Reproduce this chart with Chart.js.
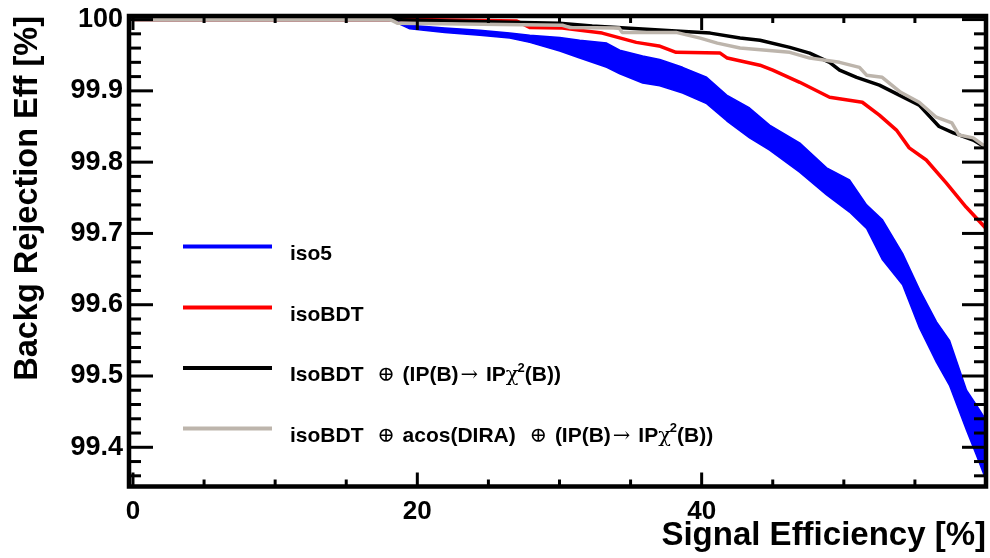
<!DOCTYPE html>
<html><head><meta charset="utf-8">
<script src="https://cdn.jsdelivr.net/npm/chart.js@4.4.0/dist/chart.umd.min.js"></script>
<style>html,body{margin:0;padding:0;background:#fff;}#wrap{width:990px;height:558px;position:relative;}</style>
</head><body><div id="wrap"><canvas id="c" width="990" height="558"></canvas></div>
<script>
// ---- data ----
const seriesNames = ['iso5', 'isoBDT', 'IsoBDT  ⊕ (IP(B)→ IPχ^{2}(B))', 'isoBDT  ⊕ acos(DIRA)  ⊕ (IP(B)→ IPχ^{2}(B))'];
const seriesColors = ['#0000ff', '#ff0000', '#000000', '#bdb5ac'];

const iso5X     = [0, 18.07, 19.47, 21.93, 24.39, 26.50, 27.91, 30.02, 31.42, 33.32, 34.24, 35.85, 37.05, 38.66, 40.35, 41.76, 43.37, 44.78, 46.89, 48.79, 50.40, 51.60, 52.72, 54.13, 55.33, 56.52, 57.43, 58.63, 59.33, 60.0];
const iso5Upper = [100, 100, 99.992, 99.988, 99.985, 99.981, 99.978, 99.975, 99.971, 99.967, 99.957, 99.949, 99.944, 99.933, 99.919, 99.894, 99.876, 99.852, 99.827, 99.792, 99.775, 99.740, 99.719, 99.672, 99.621, 99.576, 99.550, 99.480, 99.459, 99.438];
const iso5Lower = [100, 100, 99.987, 99.982, 99.978, 99.974, 99.968, 99.956, 99.946, 99.933, 99.924, 99.911, 99.907, 99.897, 99.882, 99.858, 99.834, 99.817, 99.786, 99.754, 99.730, 99.707, 99.663, 99.628, 99.567, 99.519, 99.487, 99.424, 99.389, 99.354];

const isoBdtX = [0, 19.7, 27.0, 27.9, 30.2, 33.0, 35.4, 37.0, 38.2, 41.3, 41.8, 44.1, 45.0, 46.9, 49.0, 51.3, 52.5, 53.7, 54.6, 55.8, 57.2, 58.6, 60.0];
const isoBdtY = [100, 100, 99.998, 99.989, 99.988, 99.981, 99.968, 99.963, 99.954, 99.953, 99.946, 99.936, 99.929, 99.912, 99.891, 99.884, 99.866, 99.845, 99.820, 99.803, 99.771, 99.737, 99.707];

const ipX = [0, 18.1, 22.3, 30.0, 32.3, 38.2, 40.6, 42.7, 44.1, 46.2, 47.6, 49.0, 49.7, 50.9, 52.5, 53.9, 55.3, 56.7, 57.7, 59.1, 60.0];
const ipY = [100, 100, 99.998, 99.995, 99.991, 99.984, 99.981, 99.974, 99.971, 99.961, 99.953, 99.940, 99.929, 99.919, 99.908, 99.894, 99.880, 99.850, 99.841, 99.831, 99.820];

const diraX = [0, 18.1, 18.6, 21.8, 30.2, 30.7, 34.2, 34.4, 38.2, 39.9, 41.1, 42.7, 46.2, 47.6, 49.7, 51.1, 51.6, 52.7, 54.0, 55.3, 56.5, 57.6, 58.1, 59.1, 60.0];
const diraY = [100, 100, 99.995, 99.994, 99.992, 99.989, 99.988, 99.982, 99.982, 99.974, 99.967, 99.960, 99.954, 99.946, 99.940, 99.933, 99.922, 99.919, 99.898, 99.884, 99.863, 99.855, 99.838, 99.834, 99.821];

const xTickLabels = [0, 20, 40];
const yTickLabels = [99.4, 99.5, 99.6, 99.7, 99.8, 99.9, 100];
const xMinorStep = 5, yMinorStep = 0.02;
const xRange = [-0.28, 60.0], yRange = [99.345, 100.005];
const xTitle = 'Signal Efficiency [%]';
const yTitle = 'Backg Rejection Eff [%]';

// ---- build datasets ----
const pts = (xs, ys) => xs.map((x, i) => ({x, y: ys[i]}));
const lineDs = (label, xs, ys, color, w) => ({label, data: pts(xs, ys), borderColor: color, backgroundColor: color,
  borderWidth: w, pointRadius: 0, tension: 0, fill: false});

const datasets = [
  lineDs(seriesNames[3], diraX, diraY, seriesColors[3], 3.5),
  lineDs(seriesNames[2], ipX, ipY, seriesColors[2], 3.5),
  lineDs(seriesNames[1], isoBdtX, isoBdtY, seriesColors[1], 3.5),
  lineDs(seriesNames[0] + ' upper', iso5X, iso5Upper, seriesColors[0], 1.5),
  Object.assign(lineDs(seriesNames[0] + ' lower', iso5X, iso5Lower, seriesColors[0], 1.5), {fill: '-1'})
];

const near = (v, arr, eps) => arr.find(a => Math.abs(a - v) < eps);

function stepTicks(min, max, step) {
  const out = [];
  const start = Math.ceil(min / step - 1e-6);
  const end = Math.floor(max / step + 1e-6);
  for (let k = start; k <= end; k++) out.push({value: +(k * step).toFixed(6)});
  return out;
}

const FONT = '"Liberation Sans", Arial, sans-serif';

const frameTicks = {
  id: 'frameTicks',
  afterDatasetsDraw(chart) {
    const {ctx, chartArea: a, scales: {x, y}} = chart;
    ctx.save();
    ctx.strokeStyle = '#000';
    ctx.lineWidth = 3;
    ctx.lineCap = 'butt';
    const seg = (x1, y1, x2, y2) => { ctx.beginPath(); ctx.moveTo(x1, y1); ctx.lineTo(x2, y2); ctx.stroke(); };
    x.ticks.forEach(t => {
      const px = x.getPixelForValue(t.value);
      const L = near(t.value, xTickLabels, 1e-6) !== undefined ? 14 : 7;
      seg(px, a.bottom, px, a.bottom - L);
      seg(px, a.top, px, a.top + L);
    });
    y.ticks.forEach(t => {
      const py = y.getPixelForValue(t.value);
      const L = near(t.value, yTickLabels, 1e-6) !== undefined ? 24 : 12;
      seg(a.left, py, a.left + L, py);
      seg(a.right, py, a.right - L, py);
    });
    ctx.lineWidth = 4.5;
    ctx.strokeRect(a.left, a.top, a.right - a.left, a.bottom - a.top);
    ctx.restore();
  }
};

function drawRich(ctx, str, x, y, size) {
  const re = /\^\{([^}]*)\}|([⊕→χ])|([^⊕→χ^]+)/g;
  let m;
  ctx.textBaseline = 'alphabetic';
  ctx.textAlign = 'left';
  while ((m = re.exec(str))) {
    if (m[1] !== undefined) {
      ctx.font = `bold ${Math.round(size * 0.62)}px ${FONT}`;
      ctx.fillText(m[1], x - 1, y - size * 0.45);
      x += ctx.measureText(m[1]).width - 1;
    } else if (m[2]) {
      const gap = m[2] === 'χ' ? 0 : 2;
      x += gap;
      ctx.font = `${size}px "DejaVu Serif", "Liberation Serif", serif`;
      ctx.fillText(m[2], x, y);
      x += ctx.measureText(m[2]).width + gap;
    } else {
      ctx.font = `bold ${size}px ${FONT}`;
      ctx.fillText(m[3], x, y);
      x += ctx.measureText(m[3]).width;
    }
  }
}

const legendPlugin = {
  id: 'rootLegend',
  afterDraw(chart) {
    const ctx = chart.ctx;
    const rows = [246.5, 307.5, 368, 428.5];
    ctx.save();
    seriesNames.forEach((name, i) => {
      ctx.strokeStyle = seriesColors[i];
      ctx.lineWidth = 4;
      ctx.beginPath(); ctx.moveTo(183, rows[i]); ctx.lineTo(272, rows[i]); ctx.stroke();
      ctx.fillStyle = '#000';
      drawRich(ctx, name, 290, rows[i] + 13, 21);
    });
    ctx.restore();
  }
};

new Chart(document.getElementById('c'), {
  type: 'line',
  data: {datasets},
  plugins: [frameTicks, legendPlugin],
  options: {
    responsive: false,
    animation: false,
    layout: {padding: {top: 16, right: 4, left: 0, bottom: 0}},
    plugins: {legend: {display: false}, tooltip: {enabled: false}},
    elements: {line: {borderJoinStyle: 'round'}},
    scales: {
      x: {
        type: 'linear', min: xRange[0], max: xRange[1],
        afterBuildTicks: s => { s.ticks = stepTicks(0, xRange[1], xMinorStep); },
        afterFit: s => { s.height = 71.5; s.paddingLeft = 0; s.paddingRight = 0; },
        grid: {display: false, drawTicks: false},
        border: {display: false},
        ticks: {
          autoSkip: false, maxRotation: 0, padding: 10, color: '#000',
          font: {family: FONT, size: 26, weight: 'bold'},
          callback: v => { const m = near(v, xTickLabels, 1e-6); return m !== undefined ? String(m) : ''; }
        },
        title: {display: true, text: xTitle, align: 'end', color: '#000',
          font: {family: FONT, size: 33, weight: 'bold'}, padding: {top: 0, bottom: 2}}
      },
      y: {
        type: 'linear', min: yRange[0], max: yRange[1],
        afterBuildTicks: s => { s.ticks = stepTicks(yRange[0], yRange[1], yMinorStep); },
        afterFit: s => { s.width = 129; s.paddingTop = 0; s.paddingBottom = 0; },
        grid: {display: false, drawTicks: false},
        border: {display: false},
        ticks: {
          autoSkip: false, padding: 6, color: '#000',
          font: {family: FONT, size: 27, weight: 'bold'},
          callback: v => { const m = near(v, yTickLabels, 1e-6); return m !== undefined ? (m === 100 ? '100' : m.toFixed(1)) : ''; }
        },
        title: {display: true, text: yTitle, align: 'end', color: '#000',
          font: {family: FONT, size: 32.5, weight: 'bold'}, padding: {top: 9, bottom: 0}}
      }
    }
  }
});
</script>
</body></html>
